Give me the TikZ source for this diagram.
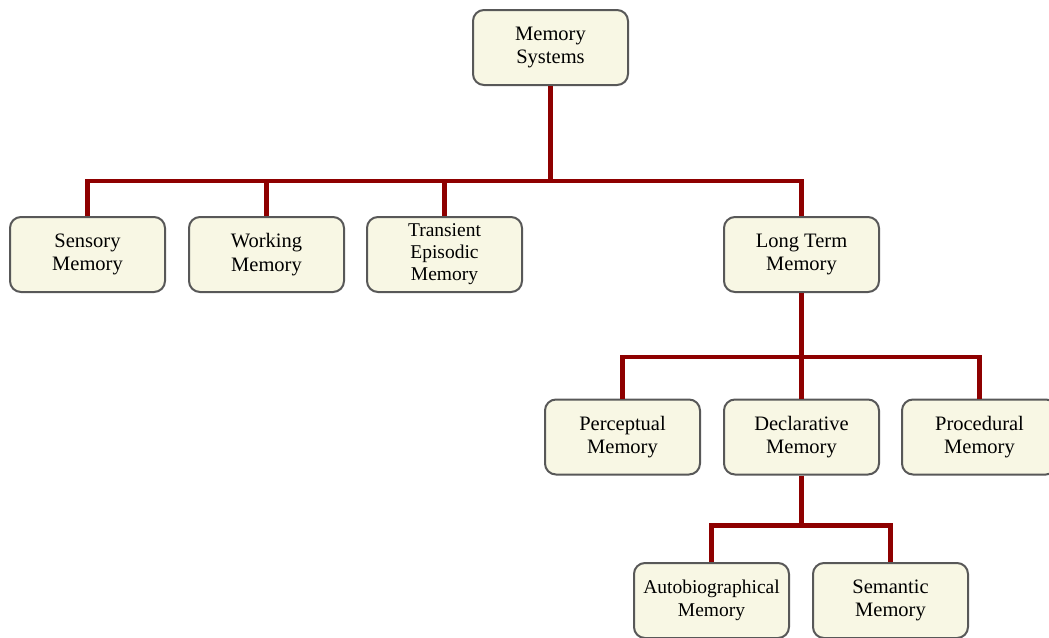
\documentclass[tikz,border=0pt]{standalone}
\usepackage{fontspec}
\setmainfont{Liberation Serif}
\definecolor{boxfill}{RGB}{248,247,228}
\definecolor{boxline}{RGB}{88,88,88}
\definecolor{linkred}{RGB}{142,0,0}
\begin{document}
\begin{tikzpicture}[
        x=1pt, y=-1pt,
        % styles
        box/.style={draw=boxline, fill=boxfill, line width=2pt, rounded corners=11pt,
            minimum width=155pt, minimum height=75pt, align=center, inner sep=2pt,
            font=\fontsize{20.5}{23.5}\selectfont},
        link/.style={draw=linkred, line width=4.6pt},
    ]
    \useasboundingbox (0,0) rectangle (1049,637);

    % nodes
    \node[box] (sys)   at (550.5,47.5)  {Memory\\Systems};
    \node[box] (sens)  at (87.5,254.5)  {Sensory\\Memory};
    \node[box] (work)  at (266.5,254.5) {Working\\Memory};
    \node[box, font=\fontsize{19.5}{22}\selectfont] (trans) at (444.5,254.5) {Transient\\Episodic\\Memory};
    \node[box] (lt)    at (801.5,254.5) {Long Term\\Memory};
    \node[box] (perc)  at (622.5,437)   {Perceptual\\Memory};
    \node[box] (decl)  at (801.5,437)   {Declarative\\Memory};
    \node[box] (proc)  at (979.5,437)   {Procedural\\Memory};
    \node[box, font=\fontsize{19.5}{23}\selectfont] (auto) at (711.5,600.5) {Autobiographical\\Memory};
    \node[box] (sem)   at (890.5,600.5) {Semantic\\Memory};

    % connectors
    \draw[link] (sys.south) -- ++(0,95) coordinate (j1);
    \foreach \c in {sens,work,trans,lt}
        \draw[link] (j1) -| (\c.north);
    \draw[link] (lt.south) -- ++(0,64) coordinate (j2);
    \foreach \c in {perc,decl,proc}
        \draw[link] (j2) -| (\c.north);
    \draw[link] (decl.south) -- ++(0,50) coordinate (j3);
    \foreach \c in {auto,sem}
        \draw[link] (j3) -| (\c.north);
\end{tikzpicture}
\end{document}
